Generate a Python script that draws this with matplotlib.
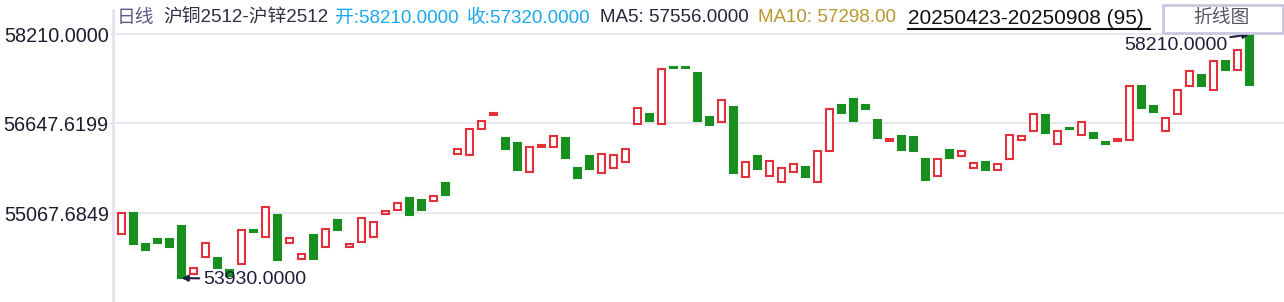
import matplotlib
matplotlib.use("Agg")
import matplotlib.pyplot as plt
from matplotlib.patches import Rectangle
from matplotlib.lines import Line2D

plt.rcParams["font.family"] = ["Liberation Sans", "Noto Sans CJK SC", "DejaVu Sans"]

# 日线 沪铜2512-沪锌2512, 20250423-20250908 (95 根)
opens = [
    54700, 55070, 54530, 54620, 54620, 54840, 54000, 54300, 54280, 54070,
    54170, 54780, 54650, 55040, 54550, 54270, 54690, 54470, 54950, 54480,
    54560, 54660, 55060, 55120, 55340, 55300, 55280, 55600, 56100, 56090,
    56540, 56800, 56390, 56300, 55790, 56240, 56230, 56390, 55860, 56070,
    55770, 55860, 55960, 56630, 56810, 56630, 57640, 57640, 57530, 56760,
    56670, 56930, 55700, 56070, 55730, 55610, 55800, 55880, 55610, 56170,
    56970, 57070, 56970, 56710, 56330, 56420, 56410, 56020, 55720, 56180,
    56070, 55860, 55970, 55820, 56020, 56350, 56520, 56790, 56280, 56570,
    56450, 56480, 56320, 56330, 56350, 57300, 56950, 56520, 56810, 57310,
    57500, 57240, 57740, 57580, 58210,
]
closes = [
    55070, 54520, 54430, 54550, 54480, 53930, 54100, 54540, 54110, 53970,
    54770, 54740, 55170, 54250, 54630, 54350, 54270, 54790, 54770, 54530,
    54990, 54920, 55100, 55240, 55040, 55130, 55380, 55390, 56200, 56550,
    56690, 56830, 56200, 55830, 56240, 56270, 56420, 56040, 55680, 55850,
    56100, 56090, 56190, 56910, 56690, 57600, 57620, 57610, 56690, 56620,
    57050, 55780, 55960, 55850, 55980, 55860, 55930, 55710, 56160, 56890,
    56830, 56680, 56900, 56390, 56370, 56180, 56170, 55660, 56020, 56030,
    56160, 55950, 55820, 55930, 56440, 56420, 56810, 56470, 56520, 56550,
    56670, 56390, 56290, 56380, 57300, 56920, 56850, 56740, 57240, 57560,
    57310, 57740, 57590, 57930, 57320,
]
y_ticks = [58210.0, 56647.6199, 55067.6849]
y_tick_labels = ["58210.0000", "56647.6199", "55067.6849"]

RED = "#e3303a"
GREEN = "#17901f"
W, H = 1284, 302


def fx(x):
    return x / W


def fy(y):
    return 1 - y / H


fig = plt.figure(figsize=(W / 100, H / 100), dpi=100, facecolor="white")
ax = fig.add_axes([fx(113), 0, fx(W - 113), (H - 10) / H])

idx = list(range(len(opens)))
for i, o, c in zip(idx, opens, closes):
    lo, hi = min(o, c), max(o, c)
    if c > o:
        ax.bar(i, hi - lo, bottom=lo, width=0.55, facecolor="white",
               edgecolor=RED, linewidth=1.5, zorder=3)
    else:
        ax.bar(i, max(hi - lo, 1), bottom=lo, width=0.55, facecolor=GREEN,
               edgecolor=GREEN, linewidth=1.5, zorder=3)

ax.set_xlim(-0.708, 96.875)
# 58210 -> y=34.3px, 17.555 per px
ax.set_ylim(58210 - (302 - 34.3) * 17.555, 58210 + (34.3 - 10) * 17.555)

ax.set_yticks(y_ticks)
ax.set_yticklabels(y_tick_labels)
ax.tick_params(axis="y", length=2, width=1, color="#b5e6f5", pad=1,
               labelsize=14.3, labelcolor="#1c1c30")
ax.set_xticks([])
ax.grid(True, axis="y", color="#e8e8f2", linewidth=1.5)
ax.set_axisbelow(True)
for s in ["top", "right", "bottom"]:
    ax.spines[s].set_visible(False)
ax.spines["left"].set_color("#e4e4f0")
ax.spines["left"].set_linewidth(2)

# 最高/最低标注
imax = opens.index(max(opens))
imin = closes.index(min(closes))
ax.annotate(f"{max(opens):.4f}", xy=(imax, max(opens)), xytext=(-22, -11),
            textcoords="offset pixels", ha="right", va="center", fontsize=14,
            color="#1e1e3a",
            arrowprops=dict(arrowstyle="-|>", color="#1e1e3a", lw=1.5,
                            mutation_scale=9, shrinkA=0, shrinkB=0))
ax.annotate(f"{min(closes):.4f}", xy=(imin, min(closes)), xytext=(22, -1),
            textcoords="offset pixels", ha="left", va="center", fontsize=14,
            color="#1e1e3a",
            arrowprops=dict(arrowstyle="-|>", color="#1e1e3a", lw=1.5,
                            mutation_scale=9, shrinkA=1, shrinkB=0))

# 顶部信息栏
ty = fy(18)
fig.text(fx(117), ty, "日线", fontsize=13.5, color="#5c5c88", va="center")
fig.text(fx(163), ty, "沪铜2512-沪锌2512", fontsize=13.5, color="#2e2e44", va="center")
fig.text(fx(335), ty, "开:58210.0000", fontsize=13.5, color="#1aa8ef", va="center")
fig.text(fx(467), ty, "收:57320.0000", fontsize=13.5, color="#1aa8ef", va="center")
fig.text(fx(600), ty, "MA5: 57556.0000", fontsize=13.5, color="#25253a", va="center")
fig.text(fx(758), ty, "MA10: 57298.00", fontsize=13.5, color="#b8962e", va="center")
fig.text(fx(908), ty, "20250423-20250908 (95)", fontsize=15, color="#111111", va="center")
fig.add_artist(Line2D([fx(908), fx(1150)], [fy(28.5), fy(28.5)], color="#111111",
                      linewidth=1.5))

fig.add_artist(Rectangle((fx(1163), fy(33)), fx(120), 28 / H, facecolor="white",
                         edgecolor="#c8c8e0", linewidth=2, transform=fig.transFigure))
fig.text(fx(1221), fy(18.5), "折线图", fontsize=13.5, color="#555566",
         ha="center", va="center")

fig.savefig("out.png", dpi=100)
